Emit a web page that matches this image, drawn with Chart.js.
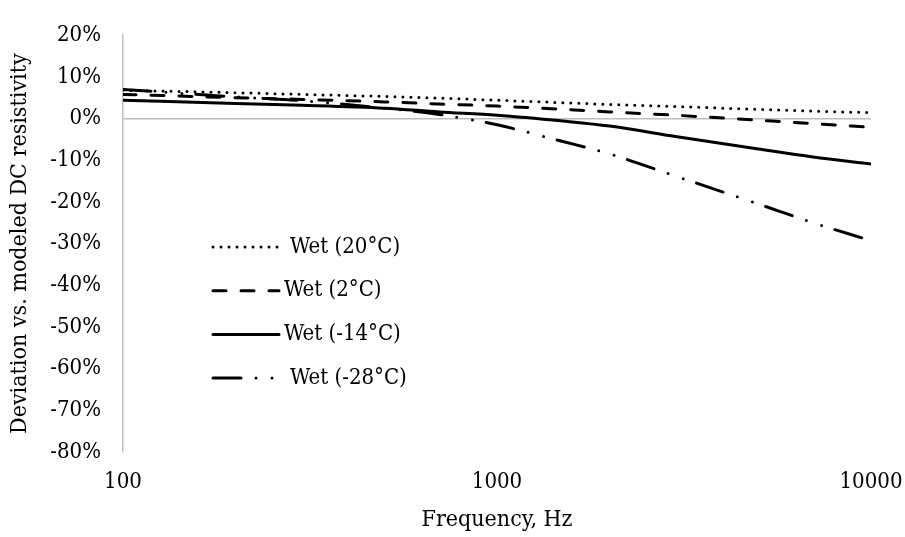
<!DOCTYPE html>
<html>
<head>
<meta charset="utf-8">
<script src="https://cdn.jsdelivr.net/npm/chart.js@4/dist/chart.umd.min.js"></script>
<style>
  html, body { margin: 0; padding: 0; background: #fff; }
  #wrap { width: 905px; height: 537px; }
</style>
</head>
<body>
<div id="wrap"><canvas id="ch"></canvas></div>
<script>
/* deviation vs modeled DC resistivity, four wet-sample temperatures */
const FREQ = [100, 200, 300, 500, 700, 1000, 1500, 2000, 3000, 5000, 7000, 10000];
const WET_20 = [6.8, 6.2, 5.8, 5.3, 4.9, 4.4, 3.8, 3.4, 2.9, 2.2, 1.8, 1.4];
const WET_2 = [5.8, 5.0, 4.6, 4.0, 3.5, 3.0, 2.2, 1.6, 0.8, -0.4, -1.2, -2.1];
const WET_M14 = [4.4, 3.6, 3.2, 2.5, 1.6, 0.8, -0.6, -1.8, -4.3, -7.3, -9.2, -10.9];
const WET_M28 = [7.0, 5.2, 4.3, 2.5, 1.0, -1.5, -5.5, -8.5, -13.8, -20.5, -25.0, -29.3];
const X_TICKS = [100, 1000, 10000];
const LABELS = ["Wet (20°C)", "Wet (2°C)", "Wet (-14°C)", "Wet (-28°C)"];

const FONT = "'DejaVu Serif Condensed', 'DejaVu Serif', serif";
const pts = v => FREQ.map((f, i) => ({ x: f, y: v[i] }));

const ds = (label, vals, dash) => ({
  label, data: pts(vals), borderColor: "#000", borderWidth: 3, borderDash: dash,
  borderCapStyle: "round", pointRadius: 0, fill: false, cubicInterpolationMode: "monotone"
});

// legend drawn inside the plot area, left side
const inLegend = {
  id: "inLegend",
  afterDatasetsDraw(c) {
    const ctx = c.ctx;
    const x0 = 213, y0 = 247, step = 43.7;
    ctx.save();
    ctx.font = "22px " + FONT;
    ctx.textBaseline = "middle";
    ctx.fillStyle = "#000";
    c.data.datasets.forEach((d, i) => {
      const y = y0 + i * step;
      ctx.beginPath();
      ctx.strokeStyle = "#000";
      ctx.lineWidth = 3;
      ctx.lineCap = "round";
      ctx.setLineDash(d.borderDash || []);
      ctx.moveTo(x0, y); ctx.lineTo(x0 + 66, y);
      ctx.stroke();
      ctx.setLineDash([]);
      ctx.fillText(d.label, i === 0 || i === 3 ? 290 : 284, y);
    });
    ctx.restore();
  }
};

new Chart(document.getElementById("ch"), {
  type: "line",
  data: { datasets: [
    ds(LABELS[0], WET_20, [0, 8]),
    ds(LABELS[1], WET_2, [13, 15]),
    ds(LABELS[2], WET_M14, []),
    ds(LABELS[3], WET_M28, [28, 15, 0, 16, 0, 14])
  ] },
  options: {
    responsive: true, maintainAspectRatio: false, animation: false,
    layout: { padding: { top: 21, right: 34, left: 0, bottom: 0 } },
    plugins: { legend: { display: false }, tooltip: { enabled: false } },
    scales: {
      x: {
        type: "logarithmic", min: 100, max: 10000,
        afterBuildTicks: s => { s.ticks = X_TICKS.map(v => ({ value: v })); },
        afterFit: s => { s.height = 85; s.paddingLeft = 0; s.paddingRight = 0; },
        grid: { display: false, drawTicks: false },
        border: { display: false },
        ticks: { color: "#000", padding: 17, font: { family: FONT, size: 22 }, callback: v => String(v), maxRotation: 0 },
        title: { display: true, text: "Frequency, Hz", color: "#000", font: { family: FONT, size: 23 }, padding: { top: 0, bottom: 3 } }
      },
      y: {
        min: -80, max: 20,
        afterFit: s => { s.width = 123; },
        grid: { drawTicks: false, lineWidth: 1.5, color: c => c.tick && c.tick.value === 0 ? "#bfbfbf" : "rgba(0,0,0,0)" },
        border: { display: true, color: "#bfbfbf", width: 1.5 },
        ticks: { stepSize: 10, color: "#000", padding: 22, font: { family: FONT, size: 22 }, callback: v => v + "%" },
        title: { display: true, text: "Deviation vs. modeled DC resistivity", color: "#000", font: { family: FONT, size: 23 }, padding: { top: 6, bottom: 0 } }
      }
    }
  },
  plugins: [inLegend]
});
</script>
</body>
</html>
